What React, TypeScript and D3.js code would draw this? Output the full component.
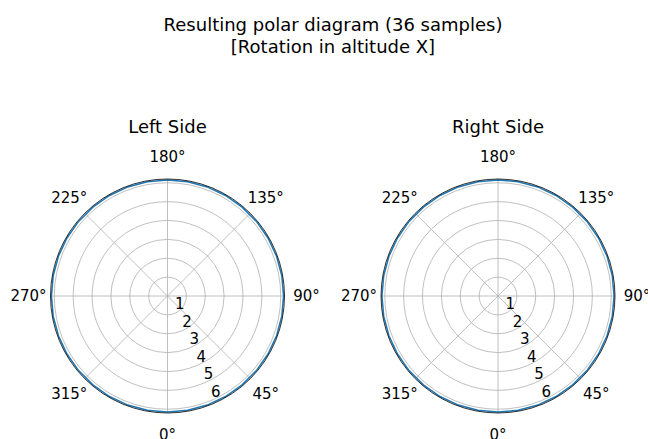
import React, { useEffect, useRef } from 'react';
import * as d3 from 'd3';

// sample angles in degrees (36 samples)
const angles = [0, 10, 20, 30, 40, 50, 60, 70, 80, 90, 100, 110, 120, 130, 140, 150, 160, 170,
  180, 190, 200, 210, 220, 230, 240, 250, 260, 270, 280, 290, 300, 310, 320, 330, 340, 350];
const leftValues = [6.15, 6.15, 6.15, 6.15, 6.15, 6.15, 6.15, 6.15, 6.15, 6.15, 6.15, 6.15,
  6.15, 6.15, 6.15, 6.15, 6.15, 6.15, 6.15, 6.15, 6.15, 6.15, 6.15, 6.15,
  6.15, 6.15, 6.15, 6.15, 6.15, 6.15, 6.15, 6.15, 6.15, 6.15, 6.15, 6.15];
const rightValues = [6.15, 6.15, 6.15, 6.15, 6.15, 6.15, 6.15, 6.15, 6.15, 6.15, 6.15, 6.15,
  6.15, 6.15, 6.15, 6.15, 6.15, 6.15, 6.15, 6.15, 6.15, 6.15, 6.15, 6.15,
  6.15, 6.15, 6.15, 6.15, 6.15, 6.15, 6.15, 6.15, 6.15, 6.15, 6.15, 6.15];
const thetaTicks = [0, 45, 90, 135, 180, 225, 270, 315];
const radialTicks = [1, 2, 3, 4, 5, 6];
const rMax = 6.2;
const panels = [
  { title: 'Left Side', values: leftValues, cx: 167.5 },
  { title: 'Right Side', values: rightValues, cx: 498 },
];

export default function App() {
  const ref = useRef<SVGSVGElement>(null);

  useEffect(() => {
    const width = 648, height = 439;
    const cy = 296, radius = 117;
    const font = 'DejaVu Sans, sans-serif';

    const svg = d3.select(ref.current);
    svg.selectAll('*').remove();
    svg.attr('width', width).attr('height', height);

    svg.append('rect').attr('width', width).attr('height', height).attr('fill', 'white');

    // figure title
    const sup = svg.append('text')
      .attr('text-anchor', 'middle')
      .attr('font-family', font)
      .attr('font-size', 18)
      .attr('fill', 'black');
    sup.append('tspan').attr('x', 333).attr('y', 31).text('Resulting polar diagram (36 samples)');
    sup.append('tspan').attr('x', 333).attr('y', 53).text('[Rotation in altitude X]');

    const r = d3.scaleLinear().domain([0, rMax]).range([0, radius]);
    const rad = (d: number) => (d * Math.PI) / 180;
    // theta zero at the bottom, counterclockwise
    const px = (t: number, v: number) => Math.sin(rad(t)) * r(v);
    const py = (t: number, v: number) => Math.cos(rad(t)) * r(v);

    panels.forEach(p => {
      const g = svg.append('g').attr('transform', `translate(${p.cx},${cy})`);

      g.append('circle').attr('r', radius).attr('fill', 'white');

      // grid
      g.selectAll('.ring').data(radialTicks).enter().append('circle')
        .attr('r', d => r(d))
        .attr('fill', 'none')
        .attr('stroke', '#b0b0b0')
        .attr('stroke-width', 0.8);
      g.selectAll('.spoke').data(thetaTicks).enter().append('line')
        .attr('x1', 0).attr('y1', 0)
        .attr('x2', d => px(d, rMax))
        .attr('y2', d => py(d, rMax))
        .attr('stroke', '#b0b0b0')
        .attr('stroke-width', 0.8);

      // data line
      const line = d3.lineRadial<number>()
        .angle((d, i) => Math.PI - rad(angles[i]))
        .radius(d => r(d))
        .curve(d3.curveLinearClosed);
      g.append('path')
        .attr('d', line(p.values))
        .attr('fill', 'none')
        .attr('stroke', '#1f77b4')
        .attr('stroke-width', 1.5);

      // spine
      g.append('circle').attr('r', radius)
        .attr('fill', 'none')
        .attr('stroke', 'black')
        .attr('stroke-width', 0.8);

      // theta labels
      g.selectAll('.tl').data(thetaTicks).enter().append('text')
        .attr('x', d => Math.sin(rad(d)) * 139)
        .attr('y', d => Math.cos(rad(d)) * 139)
        .attr('text-anchor', 'middle')
        .attr('dominant-baseline', 'central')
        .attr('font-family', font)
        .attr('font-size', 15)
        .attr('fill', 'black')
        .text(d => d + '°');

      // radial labels
      g.selectAll('.rl').data(radialTicks).enter().append('text')
        .attr('x', d => px(22.5, d) + 5)
        .attr('y', d => py(22.5, d) - 9)
        .attr('text-anchor', 'middle')
        .attr('dominant-baseline', 'central')
        .attr('font-family', font)
        .attr('font-size', 15)
        .attr('fill', 'black')
        .text(d => d);

      // panel title
      g.append('text')
        .attr('x', 0)
        .attr('y', 133 - cy)
        .attr('text-anchor', 'middle')
        .attr('font-family', font)
        .attr('font-size', 18)
        .attr('fill', 'black')
        .text(p.title);
    });
  }, []);

  return <svg ref={ref} style={{ position: 'absolute', left: 0, top: 0 }} />;
}
